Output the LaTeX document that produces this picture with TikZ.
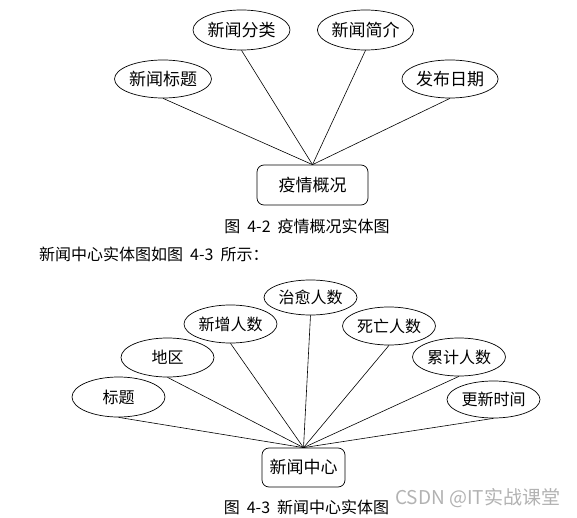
\documentclass[tikz,border=0pt]{standalone}
\usepackage{fontspec}
\newfontfamily\cjk{Noto Sans CJK SC}
\usetikzlibrary{shapes.geometric}
\begin{document}
\begin{tikzpicture}[x=1pt,y=-1pt,
  attr/.style={ellipse,draw,line width=0.7pt,inner sep=0pt,font=\cjk\fontsize{17}{20}\selectfont},
  attrs/.style={ellipse,draw,line width=0.7pt,inner sep=0pt,font=\cjk\fontsize{16}{19}\selectfont,minimum width=93pt,minimum height=37pt},
  entity/.style={rectangle,rounded corners=7pt,draw,line width=0.7pt,inner sep=0pt,font=\cjk\fontsize{17}{20}\selectfont},
  link/.style={line width=0.6pt},
  caption/.style={font=\cjk\fontsize{16}{19}\selectfont,inner sep=0pt}]
\useasboundingbox (0,0) rectangle (577,518);
% Figure 4-2
\node[attr,minimum width=97pt,minimum height=40pt] (fl) at (241.5,30) {新闻分类};
\node[attr,minimum width=95pt,minimum height=40pt] (jj) at (365.5,30) {新闻简介};
\node[attr,minimum width=97pt,minimum height=38pt] (bt) at (163,79) {新闻标题};
\node[attr,minimum width=96pt,minimum height=38pt] (rq) at (450,79) {发布日期};
\node[entity,minimum width=111pt,minimum height=40pt] (yq) at (312.5,185) {疫情概况};
\foreach \a in {fl,jj,bt,rq} \draw[link] (\a.south) -- (yq.north);
\node[caption] (c1) at (307,226) {图\hspace{7pt}4-2\hspace{7pt}疫情概况实体图};
\node[caption,anchor=west] (t1) at (39,254) {新闻中心实体图如图\hspace{7pt}4-3\hspace{7pt}所示：};
% Figure 4-3
\node[attrs,minimum height=35pt] (zy) at (310.5,297.5) {治愈人数};
\node[attrs,minimum height=38pt] (xz) at (230.5,324) {新增人数};
\node[attrs,minimum height=38pt] (sw) at (389,326) {死亡人数};
\node[attrs,minimum height=39pt] (dq) at (167.5,357.5) {地区};
\node[attrs,minimum height=38pt] (lj) at (459,357) {累计人数};
\node[attrs,minimum height=40pt] (bt2) at (118.5,397) {标题};
\node[attrs,minimum height=37pt] (gx) at (493.5,399.5) {更新时间};
\node[entity,minimum width=83pt,minimum height=39pt] (xw) at (303.5,467.5) {新闻中心};
\foreach \a in {zy,xz,sw,dq,lj,bt2,gx} \draw[link] (\a.south) -- (xw.north);
\node[caption] (c2) at (306.5,507) {图\hspace{7pt}4-3\hspace{7pt}新闻中心实体图};
\node[font=\cjk\fontsize{19}{22}\selectfont,text=black!30,anchor=west,inner sep=0pt] (wm) at (395,498) {CSDN @IT实战课堂};
\end{tikzpicture}
\end{document}
